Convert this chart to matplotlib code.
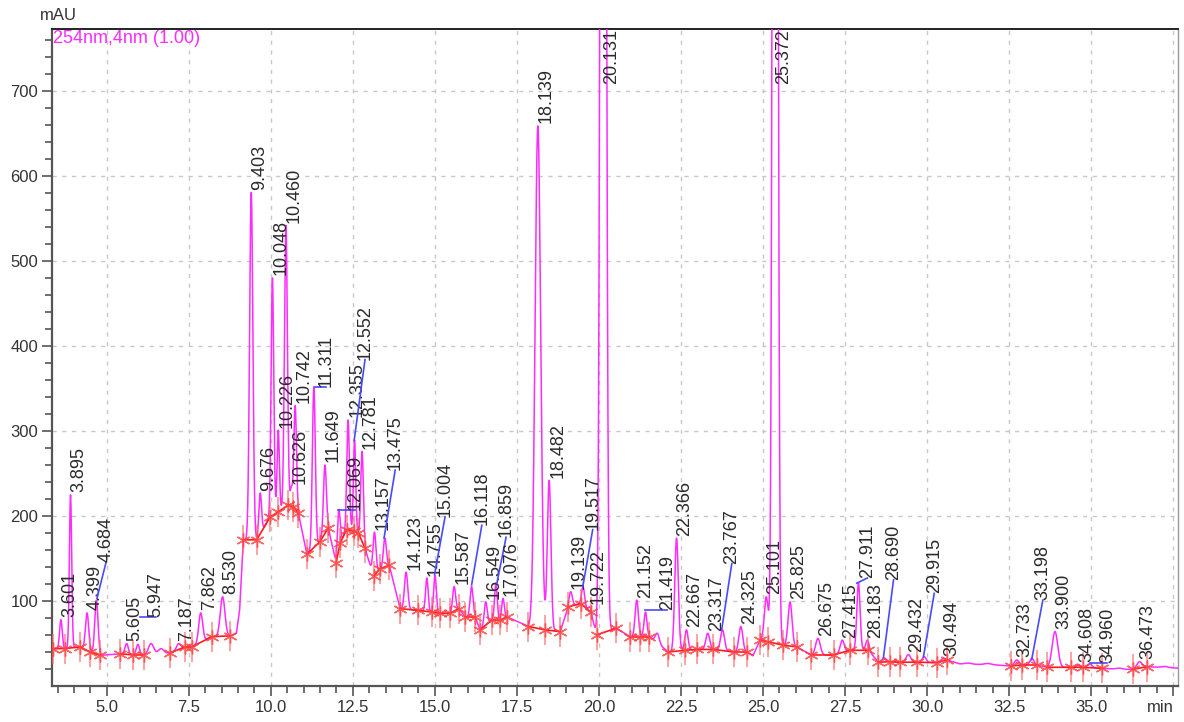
import numpy as np
import matplotlib

matplotlib.use("Agg")
import matplotlib.pyplot as plt

plt.rcParams["font.family"] = ["Liberation Sans", "DejaVu Sans"]

# labelled peaks: retention time (min), apex height (mAU), width sigma (min)
peak_rt = [3.601, 3.895, 4.399, 4.684, 5.605, 5.947, 7.187, 7.862, 8.530,
           9.403, 9.676, 10.048, 10.226, 10.460, 10.626, 10.742, 11.311, 11.649,
           12.069, 12.355, 12.552, 12.781, 13.157, 13.475, 14.123, 14.755, 15.004,
           15.587, 16.118, 16.549, 16.859, 17.076, 18.139, 18.482, 19.139, 19.517,
           19.722, 20.131, 21.152, 21.419, 22.366, 22.667, 23.317, 23.767, 24.325,
           25.101, 25.372, 25.825, 26.675, 27.415, 27.911, 28.183, 28.690, 29.432,
           29.915, 30.494, 32.733, 33.198, 33.900, 34.608, 34.960, 36.473]
peak_height = [78, 225, 86, 101, 50, 49, 50, 86, 105,
               581, 227, 480, 301, 542, 235, 330, 352, 260,
               207, 313, 289, 276, 181, 174, 134, 127, 130,
               117, 117, 99, 121, 103, 659, 242, 111, 117,
               93, 3000, 101, 87, 174, 66, 62, 66, 70,
               105, 3000, 99, 56, 54, 121, 54, 33, 37,
               34.5, 32.5, 30.6, 32.6, 64, 24.7, 26, 28.6]
peak_sigma = [0.04, 0.035, 0.05, 0.05, 0.05, 0.05, 0.06, 0.06, 0.07,
              0.05, 0.04, 0.04, 0.035, 0.045, 0.035, 0.04, 0.045, 0.045,
              0.04, 0.04, 0.035, 0.04, 0.045, 0.045, 0.05, 0.04, 0.04,
              0.045, 0.045, 0.045, 0.04, 0.04, 0.085, 0.055, 0.05, 0.045,
              0.04, 0.065, 0.05, 0.045, 0.055, 0.05, 0.06, 0.06, 0.06,
              0.06, 0.06, 0.06, 0.07, 0.06, 0.05, 0.05, 0.07, 0.07,
              0.06, 0.07, 0.07, 0.06, 0.085, 0.06, 0.07, 0.08]

# small unlabelled bumps
minor_rt = [6.35, 6.65, 21.78, 31.25, 31.85, 35.85, 37.25]
minor_height = [50, 44, 62, 27, 26.5, 21, 23]
minor_sigma = [0.08, 0.08, 0.06, 0.1, 0.1, 0.1, 0.1]

# integration baseline points, one list per segment
baseline_segments = [
    [(3.36, 44), (3.72, 44), (4.18, 46), (4.49, 40), (4.80, 36)],
    [(5.41, 38), (5.81, 36.5), (6.12, 36.5)],
    [(6.93, 39), (7.39, 46), (7.59, 46), (8.20, 58), (8.76, 59)],
    [(9.16, 172), (9.57, 172), (9.98, 199), (10.23, 205), (10.53, 213), (10.69, 211), (10.84, 203)],
    [(11.10, 155), (11.50, 170), (11.75, 186)],
    [(11.99, 145), (12.11, 168), (12.31, 184), (12.52, 182), (12.67, 180), (12.87, 162)],
    [(13.13, 129), (13.33, 138), (13.61, 142)],
    [(13.94, 91), (14.50, 89), (14.90, 87), (15.16, 85.5), (15.46, 85.5), (15.72, 91)],
    [(15.93, 81.5), (16.22, 81.5)],
    [(16.38, 66), (16.73, 77.6), (16.99, 77.6), (17.19, 81.5)],
    [(17.85, 70), (18.36, 66), (18.82, 64)],
    [(19.07, 93), (19.44, 97), (19.75, 87)],
    [(19.93, 60), (20.52, 68)],
    [(20.95, 58), (21.26, 58), (21.54, 58)],
    [(22.12, 40), (22.63, 42), (22.98, 43), (23.49, 43), (24.12, 40), (24.51, 40)],
    [(24.91, 54), (25.16, 52), (25.62, 48), (26.03, 46)],
    [(26.47, 36.5), (27.15, 36.5), (27.65, 42), (28.21, 42)],
    [(28.52, 28), (28.87, 28.6), (29.18, 28), (29.69, 28), (30.30, 27.5), (30.60, 30.6)],
    [(32.55, 23.5), (32.89, 24.7), (33.35, 24.7)],
    [(33.66, 22), (34.39, 22), (34.74, 22), (35.32, 20.8)],
    [(36.28, 19.6), (36.70, 22.7)],
]

# extra points of the detector drift between segments
drift_t = [3.33, 8.95, 9.05, 24.70, 31.0, 32.0, 35.8, 37.65]
drift_y = [45, 62, 90, 36, 26, 25, 19.6, 21]

# labels moved off their peak: rt -> (label x, label y, leader start x, leader start y)
moved_labels = {
    4.684: (4.98, 146, 4.70, 103),
    5.947: (6.50, 81, 6.00, 81),
    11.311: (11.68, 352, 11.35, 352),
    12.069: (12.57, 207, 12.06, 207),
    12.552: (12.87, 384, 12.54, 289),
    13.475: (13.79, 254, 13.45, 174),
    15.004: (15.31, 199, 14.99, 131),
    16.118: (16.43, 189, 16.12, 119),
    16.859: (17.17, 175, 16.89, 121),
    19.517: (19.81, 184, 19.51, 117),
    21.419: (22.08, 89, 21.41, 89),
    23.767: (24.05, 144, 23.74, 66),
    27.911: (28.18, 127, 27.86, 121),
    28.690: (28.98, 125, 28.67, 33),
    29.915: (30.22, 109, 29.89, 34),
    33.198: (33.53, 101, 33.19, 31),
    34.960: (35.50, 27.5, 34.97, 27.5),
}

X_MIN, X_MAX = 3.33, 37.65
Y_MIN, Y_MAX = 0, 773


def gauss(t, rt, sig):
    return np.exp(-0.5 * ((t - rt) / sig) ** 2)


# baseline under the whole trace
pts = [p for seg in baseline_segments for p in seg] + list(zip(drift_t, drift_y))
pts.sort()
base_t = np.array([p[0] for p in pts])
base_y = np.array([p[1] for p in pts])

rts = np.array(peak_rt + minor_rt)
heights = np.array(peak_height + minor_height, dtype=float)
sigmas = np.array(peak_sigma + minor_sigma)

# solve amplitudes so the summed trace passes through each apex height
A = gauss(rts[:, None], rts[None, :], sigmas[None, :])
amps = np.linalg.lstsq(A, heights - np.interp(rts, base_t, base_y), rcond=None)[0]
amps = np.clip(amps, 0, None)

t = np.linspace(X_MIN, X_MAX, 8000)
signal = np.interp(t, base_t, base_y) + gauss(t[:, None], rts[None, :], sigmas[None, :]) @ amps

fig = plt.figure(figsize=(11.84, 7.22), dpi=100)
ax = fig.add_axes([52 / 1184, 36 / 722, 1126 / 1184, 657 / 722])

ax.plot(t, signal, color="#ff2bff", lw=1.1, zorder=3)

for seg in baseline_segments:
    st = [p[0] for p in seg]
    sy = [p[1] for p in seg]
    ax.plot(st, sy, color="#ff1a1a", lw=1.2, zorder=4)
    ax.plot(st, sy, ls="none", marker="|", ms=22, mew=1.2, color="#ff7070", alpha=0.75, zorder=4)
    ax.plot(st, sy, ls="none", marker=(6, 2, 0), ms=10, mew=1.0, color="#ff4040", alpha=0.8, zorder=4)

label_kw = dict(rotation=90, ha="center", fontsize=13, color="#2a2a2a", zorder=5)
for rt, h in zip(peak_rt, peak_height):
    text = f"{rt:.3f}"
    if rt in moved_labels:
        lx, ly, sx, sy = moved_labels[rt]
        ax.plot([sx, lx], [sy, ly], color="#4a4aff", lw=1.2, zorder=5)
        ax.text(lx, ly, text, va="bottom", **label_kw)
    elif h > Y_MAX:
        ax.text(rt + 0.26, Y_MAX, text, va="top", **label_kw)
    else:
        ax.text(rt + 0.26, h + 3, text, va="bottom", **label_kw)

ax.text(0.001, 0.999, "254nm,4nm (1.00)", transform=ax.transAxes, ha="left", va="top",
        fontsize=13, color="#ff2bff", zorder=6)

ax.set_xlim(X_MIN, X_MAX)
ax.set_ylim(Y_MIN, Y_MAX)
xt = np.arange(5.0, 37.6, 2.5)
ax.set_xticks(xt)
ax.set_xticklabels([f"{v:.1f}" if v < 37 else "" for v in xt])
ax.set_xticks(np.arange(3.5, 37.6, 0.5), minor=True)
ax.set_yticks(np.arange(100, 701, 100))
ax.set_yticks(np.arange(20, 771, 20), minor=True)
ax.tick_params(which="major", length=7, width=1.2, color="#555555", labelsize=12,
               labelcolor="#333333", pad=3)
ax.tick_params(which="minor", length=5, width=1.2, color="#555555")
ax.grid(True, which="major", color="#c8c8c8", ls=(0, (3, 4)), lw=1.0, zorder=0)

for side in ("left", "bottom"):
    ax.spines[side].set_color("#555555")
    ax.spines[side].set_linewidth(1.6)
ax.spines["top"].set_color("#222222")
ax.spines["top"].set_linewidth(1.4)
ax.spines["right"].set_color("#999999")
ax.spines["right"].set_linewidth(1.0)

fig.text(40 / 1184, 1 - 15 / 722, "mAU", ha="left", va="center", fontsize=12, color="#333333")
fig.text(1160 / 1184, 1 - 707 / 722, "min", ha="center", va="center", fontsize=12, color="#333333")

fig.savefig("out.png", dpi=100)
plt.close(fig)
